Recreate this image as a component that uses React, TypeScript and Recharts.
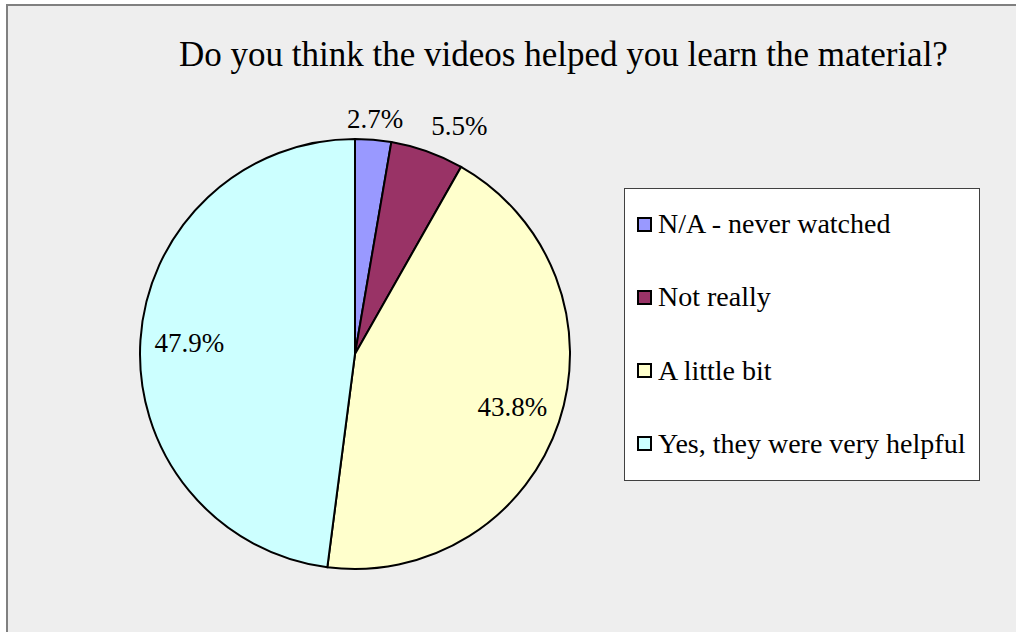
import React from "react";
import { PieChart, Pie, Cell, Legend } from "recharts";

const categories = ["N/A - never watched", "Not really", "A little bit", "Yes, they were very helpful"];
const shares = [2.7, 5.5, 43.8, 47.9];
const colors = ["#9999FF", "#993366", "#FFFFCC", "#CCFFFF"];
const title = "Do you think the videos helped you learn the material?";

const data = categories.map((name, i) => ({ name, value: shares[i] }));

const FONT = "'Liberation Serif', 'Times New Roman', serif";
const RADIAN = Math.PI / 180;
const LABEL_SIZE = 27;

const labelWidth = (t: string) => {
  let w = 0;
  for (const c of t) w += c === "." ? 0.25 : c === "%" ? 0.833 : 0.5;
  return w * LABEL_SIZE;
};

let lastOutsideRight = -Infinity;

const renderLabel = (props: any) => {
  const { cx, cy, midAngle, outerRadius, index, value } = props;
  const text = `${Number(value).toFixed(1)}%`;
  const w = labelWidth(text);
  const outside = value < 10;
  const r = outside ? outerRadius + 21 : outerRadius * 0.772;
  let x = cx + r * Math.cos(-midAngle * RADIAN);
  let y = cy + r * Math.sin(-midAngle * RADIAN);
  if (outside) {
    if (index === 0) lastOutsideRight = -Infinity;
    const left = x - w / 2;
    const minLeft = lastOutsideRight + 28;
    if (left < minLeft) {
      x = minLeft + w / 2;
      y -= 6;
    }
    lastOutsideRight = x + w / 2;
  }
  return (
    <text
      key={`l-${index}`}
      x={x}
      y={y}
      textAnchor="middle"
      dominantBaseline="central"
      fontFamily={FONT}
      fontSize={LABEL_SIZE}
      fill="#000"
    >
      {text}
    </text>
  );
};

const LegendContent = () => (
  <div
    style={{
      width: 354,
      height: 291,
      background: "#fff",
      border: "1px solid #404040",
      position: "relative",
      fontFamily: FONT,
    }}
  >
    {categories.map((name, i) => (
      <div
        key={name}
        style={{
          position: "absolute",
          left: 12,
          top: 19 + i * 73.3,
          height: 32,
          display: "flex",
          alignItems: "center",
          whiteSpace: "nowrap",
        }}
      >
        <span
          style={{
            display: "inline-block",
            width: 11,
            height: 11,
            border: "2px solid #000",
            background: colors[i],
            marginRight: 6,
          }}
        />
        <span style={{ fontSize: 28, color: "#000", lineHeight: "32px", fontFamily: FONT }}>{name}</span>
      </div>
    ))}
  </div>
);

export default function App() {
  lastOutsideRight = -Infinity;
  return (
    <div
      style={{
        position: "absolute",
        left: 0,
        top: 0,
        width: 1016,
        height: 632,
        background: "#fff",
        overflow: "hidden",
      }}
    >
      <div
        style={{
          position: "absolute",
          left: 6,
          top: 4,
          width: 1100,
          height: 700,
          background: "#EEEEEE",
          borderLeft: "2px solid #808080",
          borderTop: "2px solid #808080",
        }}
      />
      <div
        style={{
          position: "absolute",
          left: 0,
          top: 35,
          width: 1127,
          textAlign: "center",
          fontFamily: FONT,
          fontSize: 35,
          lineHeight: "40px",
          color: "#000",
          whiteSpace: "nowrap",
        }}
      >
        {title}
      </div>
      <div style={{ position: "absolute", left: 0, top: 0 }}>
        <PieChart width={1016} height={632} margin={{ top: 0, right: 0, bottom: 0, left: 0 }}>
          <Pie
            data={data}
            dataKey="value"
            nameKey="name"
            cx={355}
            cy={354}
            outerRadius={215}
            startAngle={90}
            endAngle={-270}
            stroke="#000"
            strokeWidth={2}
            label={renderLabel}
            labelLine={false}
            isAnimationActive={false}
          >
            {data.map((d, i) => (
              <Cell key={d.name} fill={colors[i]} />
            ))}
          </Pie>
          <Legend
            content={<LegendContent />}
            wrapperStyle={{ position: "absolute", left: 624, top: 188, width: 356, height: 293 }}
          />
        </PieChart>
      </div>
    </div>
  );
}
